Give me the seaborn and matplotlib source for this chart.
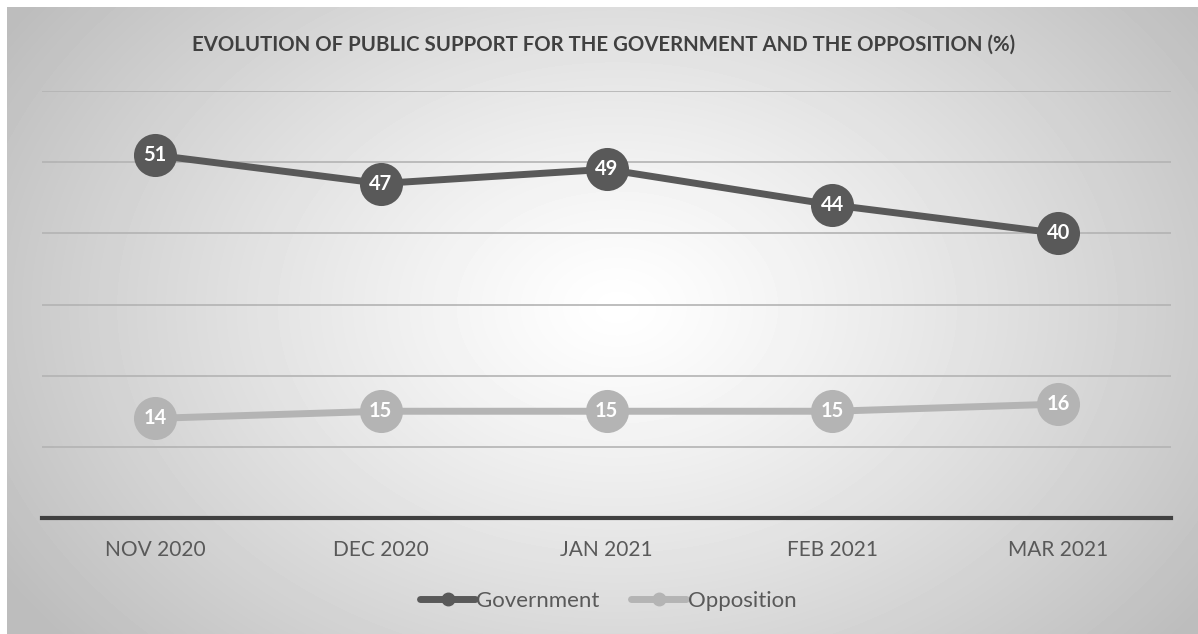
import numpy as np
import pandas as pd
import matplotlib.pyplot as plt
import seaborn as sns

months = ['NOV 2020', 'DEC 2020', 'JAN 2021', 'FEB 2021', 'MAR 2021']
government = [51, 47, 49, 44, 40]
opposition = [14, 15, 15, 15, 16]

df = pd.DataFrame({
    'month': months * 2,
    'value': government + opposition,
    'series': ['Government'] * len(months) + ['Opposition'] * len(months),
})
df['x'] = df.groupby('series').cumcount()

colors = {'Government': '#595959', 'Opposition': '#b4b4b4'}

sns.set_style('white')
plt.rcParams['font.family'] = ['Lato', 'DejaVu Sans']

fig = plt.figure(figsize=(11.98, 6.34), dpi=100)
fig.patch.set_facecolor('white')

# radial gradient background
bg = fig.add_axes([7 / 1198, 0, 1 - 7 / 1198, 1 - 7 / 634], zorder=-5)
h, w = 627, 1191
yy, xx = np.mgrid[0:h, 0:w]
r = np.sqrt(((xx - 610) / 720.0) ** 2 + ((yy - 300) / 520.0) ** 2)
shade = 1.0 - 0.26 * np.clip(r, 0, 1) ** 1.2
bg.imshow(shade, cmap='gray', vmin=0, vmax=1, aspect='auto', interpolation='bilinear')
bg.axis('off')

ax = fig.add_axes([42 / 1198, 1 - 518 / 634, (1171 - 42) / 1198, (518 - 91) / 634])
ax.patch.set_alpha(0)

sns.lineplot(data=df, x='x', y='value', hue='series', palette=colors,
             linewidth=5, marker='o', markersize=31, markeredgewidth=0,
             ax=ax, legend=False, zorder=3)

for name, vals in [('Government', government), ('Opposition', opposition)]:
    for i, v in enumerate(vals):
        ax.text(i, v, str(v), ha='center', va='center', color='white',
                fontsize=14.5, fontweight='bold', zorder=5)

ax.set_xlim(-0.5, len(months) - 0.5)
ax.set_ylim(0, 60)
ax.set_yticks(range(10, 61, 10))
ax.set_yticklabels([])
ax.tick_params(axis='y', length=0)
ax.grid(axis='y', color='#b3b3b3', linewidth=1.2)
ax.set_axisbelow(True)
ax.set_xticks(range(len(months)))
ax.set_xticklabels(months, fontsize=15, color='#595959')
ax.tick_params(axis='x', length=0, pad=16)
ax.set_xlabel('')
ax.set_ylabel('')
for s in ['top', 'right', 'left']:
    ax.spines[s].set_visible(False)
ax.spines['bottom'].set_color('#404040')
ax.spines['bottom'].set_linewidth(3)

fig.text(604 / 1198, 1 - 45 / 634, 'EVOLUTION OF PUBLIC SUPPORT FOR THE GOVERNMENT AND THE OPPOSITION (%)',
         ha='center', va='center', fontsize=14.7, fontweight='bold', color='#404040')

handles = [plt.Line2D([], [], color=colors[k], linewidth=5, marker='o', markersize=9)
           for k in ['Government', 'Opposition']]
fig.legend(handles, ['Government', 'Opposition'], loc='center', bbox_to_anchor=(608 / 1198, 1 - 601 / 634),
           ncol=2, frameon=False, fontsize=16, handlelength=2.5, handletextpad=0.05,
           columnspacing=1.4, labelcolor='#595959')

fig.savefig('out.png', dpi=100)
